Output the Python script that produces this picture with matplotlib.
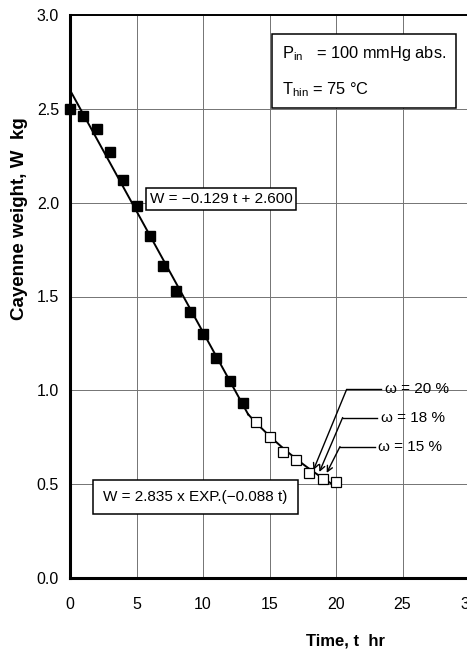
import numpy as np
import matplotlib
matplotlib.use("Agg")
import matplotlib.pyplot as plt

plt.rcParams['font.family'] = ['Liberation Sans Narrow', 'Liberation Sans', 'DejaVu Sans']
plt.rcParams['mathtext.fontset'] = 'custom'
plt.rcParams['mathtext.rm'] = 'Liberation Sans'
plt.rcParams['mathtext.it'] = 'Liberation Sans'

# measured weights
t_filled = [0, 1, 2, 3, 4, 5, 6, 7, 8, 9, 10, 11, 12, 13]
w_filled = [2.50, 2.46, 2.39, 2.27, 2.12, 1.98, 1.82, 1.66, 1.53, 1.42, 1.30, 1.17, 1.05, 0.93]
t_open = [14, 15, 16, 17, 18, 19, 20]
w_open = [0.83, 0.75, 0.67, 0.63, 0.56, 0.53, 0.51]

# fitted curves shown in the chart
lin_slope, lin_icpt = -0.129, 2.600
exp_a, exp_k = 2.835, -0.088
t_switch = 13.4

# moisture content marks
omega_labels = ['ω = 20 %', 'ω = 18 %', 'ω = 15 %']
omega_tip = [(18.3, 0.575), (18.75, 0.565), (19.3, 0.56)]
omega_elbow = [(20.8, 1.005), (20.5, 0.855), (20.3, 0.70)]

fig = plt.figure(figsize=(4.67, 6.55), dpi=100)
ax = fig.add_axes([70 / 467, 1 - 578 / 655, 399 / 467, 563 / 655])

ax.set_xlim(0, 30)
ax.set_ylim(0, 3.0)
ax.set_xticks(range(0, 31, 5))
ax.set_yticks(np.arange(0, 3.01, 0.5))
ax.set_yticklabels(['%.1f' % v for v in np.arange(0, 3.01, 0.5)])
ax.grid(True, color='0.45', lw=0.7)
ax.set_axisbelow(True)
ax.tick_params(length=0, labelsize=11.5)
ax.tick_params(axis='y', pad=8)
ax.tick_params(axis='x', pad=14)
for side in ['left', 'bottom']:
    ax.spines[side].set_linewidth(2.2)
ax.spines['top'].set_linewidth(1.4)

t1 = np.linspace(0, t_switch, 50)
t2 = np.linspace(t_switch, 20, 50)
ax.plot(t1, lin_slope * t1 + lin_icpt, color='black', lw=1.4, zorder=3)
ax.plot(t2, exp_a * np.exp(exp_k * t2), color='black', lw=1.4, zorder=3)

ax.plot(t_filled, w_filled, 's', color='black', ms=6.5, zorder=4, clip_on=False)
ax.plot(t_open, w_open, 's', mfc='white', mec='black', mew=0.9, ms=6.5, zorder=4)

box = dict(boxstyle='square,pad=0.25', fc='white', ec='black', lw=1.1)
ax.text(6.0, 2.02, 'W = −0.129 t + 2.600', fontsize=11, va='center', ha='left', bbox=box, zorder=5)
box3 = dict(boxstyle='square,pad=0.65', fc='white', ec='black', lw=1.1)
ax.text(2.5, 0.43, 'W = 2.835 x EXP.(−0.088 t)', fontsize=11, va='center', ha='left', bbox=box3, zorder=5)
box2 = dict(boxstyle='square,pad=0.6', fc='white', ec='black', lw=1.1)
ax.text(15.95, 2.70, 'P$_{\\rm in}$   = 100 mmHg abs.\nT$_{\\rm hin}$ = 75 °C', fontsize=11.8,
        va='center', ha='left', linespacing=2.2, bbox=box2, zorder=5)

for lab, tip, elb in zip(omega_labels, omega_tip, omega_elbow):
    ax.plot([elb[0], elb[0] + 2.6], [elb[1], elb[1]], color='black', lw=1.0, zorder=3)
    ax.annotate('', xy=tip, xytext=elb,
                arrowprops=dict(arrowstyle='->', color='black', lw=1.0, shrinkA=0, shrinkB=0))
    ax.text(elb[0] + 2.85, elb[1], lab, fontsize=11, va='center', ha='left')

fig.text(20 / 467, 1 - 219 / 655, 'Cayenne weight, W  kg', rotation=90, fontsize=13.5,
         fontweight='bold', va='center', ha='center')
fig.text(346 / 467, 1 - 641 / 655, 'Time, t  hr', fontsize=12, fontweight='bold',
         va='center', ha='center')

fig.savefig('out.png', dpi=100)
